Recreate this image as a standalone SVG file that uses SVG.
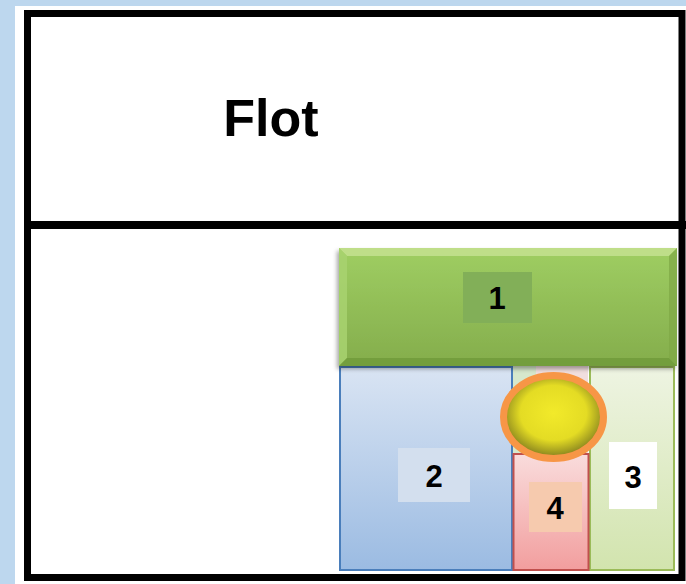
<svg xmlns="http://www.w3.org/2000/svg" width="686" height="584" viewBox="0 0 686 584">
<style>
.lbl{font-family:"Liberation Sans",Arial,sans-serif;font-weight:bold;fill:#000;text-anchor:middle}
.num{font-size:31px}
</style>
<defs>
<linearGradient id="g1" x1="0" y1="0" x2="0" y2="1">
<stop offset="0" stop-color="#9FCE62"/><stop offset="1" stop-color="#84AD4C"/>
</linearGradient>
<linearGradient id="g2" x1="0" y1="0" x2="0" y2="1">
<stop offset="0" stop-color="#D9E4F3"/><stop offset="1" stop-color="#9BBBE2"/>
</linearGradient>
<linearGradient id="g3" x1="0" y1="0" x2="0" y2="1">
<stop offset="0" stop-color="#EEF4E2"/><stop offset="1" stop-color="#D2E4AE"/>
</linearGradient>
<linearGradient id="g4" x1="0" y1="0" x2="0" y2="1">
<stop offset="0" stop-color="#F9DCDC"/><stop offset="1" stop-color="#F29E9E"/>
</linearGradient>
<radialGradient id="ge" cx="0.5" cy="0.45" r="0.55">
<stop offset="0" stop-color="#F2EA2A"/><stop offset="0.6" stop-color="#E4DC24"/><stop offset="1" stop-color="#7E7A1E"/>
</radialGradient>
<filter id="sh" x="-5%" y="-5%" width="110%" height="115%">
<feDropShadow dx="-2" dy="3" stdDeviation="2" flood-color="#000" flood-opacity="0.35"/>
</filter>
</defs>
<rect width="686" height="584" fill="#BDD7EE"/>
<rect x="15" y="6" width="671" height="578" fill="#FFFFFF"/>
<g id="frame">
<rect x="27.5" y="13.5" width="654.5" height="564" fill="none" stroke="#000" stroke-width="7"/>
<line x1="24" y1="225" x2="686" y2="225" stroke="#000" stroke-width="8"/>
</g>
<g id="title"><text class="lbl" x="271" y="136" font-size="52">Flot</text></g>
<g id="hidden">
<rect x="513" y="366" width="23" height="88" fill="#D6E8CC"/>
<rect x="536" y="366" width="52" height="88" fill="#F1DEDE"/>
</g>
<g id="node2">
<rect x="340" y="367" width="172" height="203" fill="url(#g2)" stroke="#4A7EBB" stroke-width="2"/>
<rect x="398" y="448" width="72" height="54" fill="#D3DFEE"/>
<text class="lbl num" x="434" y="487">2</text>
</g>
<g id="node3">
<rect x="590" y="367" width="84" height="203" fill="url(#g3)" stroke="#9BBB59" stroke-width="2"/>
<rect x="609" y="442" width="48" height="67" fill="#FFFFFF"/>
<text class="lbl num" x="633" y="488">3</text>
</g>
<g id="node4">
<rect x="513.5" y="454" width="75" height="116" fill="url(#g4)" stroke="#C0504D" stroke-width="2"/>
<rect x="529" y="482" width="53" height="50" fill="#F6CAAE"/>
<text class="lbl num" x="555" y="519">4</text>
</g>
<g id="node1">
<g filter="url(#sh)">
<rect x="339" y="248" width="338" height="118" fill="url(#g1)"/>
</g>
<polygon points="339,248 677,248 669,256 347,256" fill="#C4E190" opacity="0.85"/>
<polygon points="339,248 347,256 347,358 339,366" fill="#A8D270" opacity="0.85"/>
<polygon points="339,366 347,358 669,358 677,366" fill="#6E9838" opacity="0.75"/>
<polygon points="677,248 677,366 669,358 669,256" fill="#7FA845" opacity="0.75"/>
<rect x="463" y="272" width="69" height="51" fill="#82AF58"/>
<text class="lbl num" x="497" y="309">1</text>
</g>
<g id="circle">
<ellipse cx="553.5" cy="417" rx="50" ry="41.5" fill="url(#ge)" stroke="#F79646" stroke-width="7"/>
</g>
</svg>
